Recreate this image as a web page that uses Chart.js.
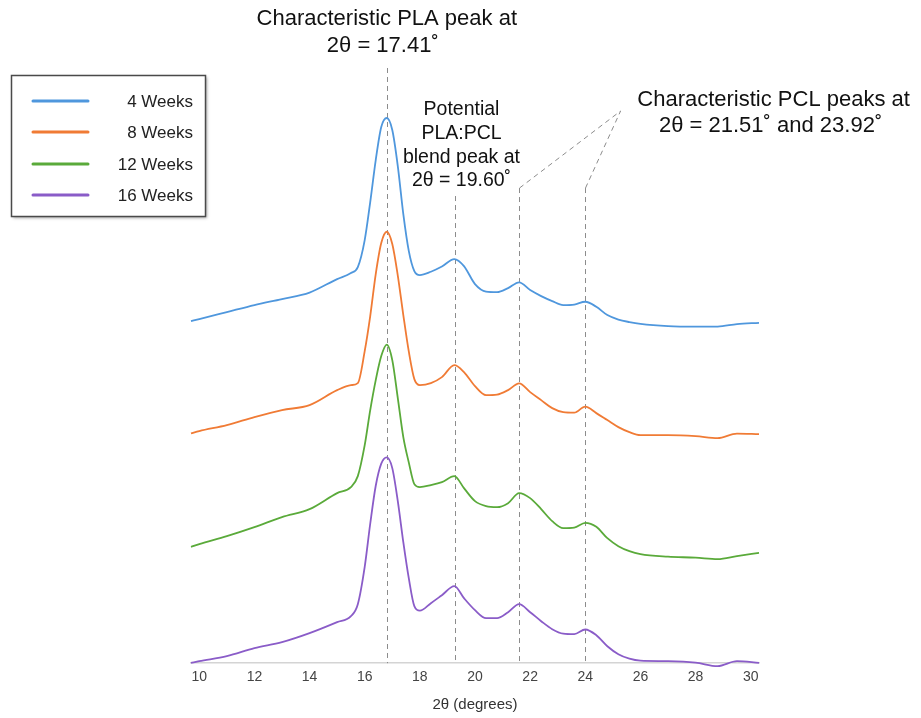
<!DOCTYPE html>
<html>
<head>
<meta charset="utf-8">
<script src="https://cdn.jsdelivr.net/npm/chart.js@4.4.1/dist/chart.umd.min.js"></script>
<style>
html,body{margin:0;padding:0;background:#fff;}
#wrap{width:921px;height:718px;position:relative;}
</style>
</head>
<body>
<div id="wrap"><canvas id="c" width="921" height="718"></canvas></div>
<script>
// ---- data (2θ in degrees, intensity in arbitrary stacked units) ----
const twoTheta = [9.7,10,11,12,13,14,15,15.5,15.75,16.0,16.2,16.4,16.6,16.8,17.0,17.2,17.4,17.6,17.8,18.0,18.4,18.8,19.25,19.6,20.0,20.4,20.8,21.2,21.6,22.0,22.4,22.8,23.2,23.6,24.0,24.4,24.8,25.2,25.6,26.0,27.0,28.0,28.8,29.5,30.3];
const weeks4  = [342,344,351,358,364,370.5,384,390,396,423,461,503,536,545,533,497,449,412,392,388,391.3,396.5,404,397,379,371.5,371,375,380.7,373,367,362,358,358.5,361.3,356.3,348,343.5,341,339.2,337,336.5,336.5,339,340.3];
const weeks8  = [229.7,232,238,246,253,258,273,278,280,312,347,389,420,431.3,419,387.5,348,311.4,284,278,280,286,298,291,277,268,268.5,273,279.7,271,263,255,251,250.5,256.5,250,243,236,231,228,228,227,225,229.5,229];
const weeks12 = [116.3,119,127,136,146,154,170,176,187,218,253,283,307,318.5,303,265,226,200.5,179,176,178,181,187,175,162,157,156,160,170,165,154,142,135,135.5,140.3,136.3,125,117,112,109,106.5,105.5,104,107,110.3];
const weeks16 = [0.3,2,7,15,21,30,41,47,59,96.3,139.4,177.4,199.5,205.7,195,162,121,84.7,57,52.5,60,68,77,65,53,45,45,51,59,51,42,34,29.5,29,33.7,28,17,9,4.5,2.5,2,0.5,-3,2,0.3];
const seriesLabels = ['4 Weeks','8 Weeks','12 Weeks','16 Weeks'];
const xTicks = [10,12,14,16,18,20,22,24,26,28,30];
// peak marker positions (2θ) and top of each dashed marker (intensity units)
const peakX   = [16.8, 19.27, 21.6, 23.98];
const peakTop = [595, 467, 475, 475];
const leaderApex = [25.28, 552];
const plaText   = ['Characteristic PLA peak at', '2θ = 17.41˚'];
const blendText = ['Potential', 'PLA:PCL', 'blend peak at', '2θ = 19.60˚'];
const pclText   = ['Characteristic PCL peaks at', '2θ = 21.51˚ and 23.92˚'];

const colors = ['#4f97dd','#f07b35','#5aaa3a','#8a5cc8'];
const FONT = "'Liberation Sans', Arial, Helvetica, sans-serif";
Chart.defaults.font.family = FONT;

const seriesData = [weeks4, weeks8, weeks12, weeks16];

const annot = {
  id: 'annot',
  beforeDatasetsDraw(chart) {
    const {ctx, scales: {x, y}} = chart;
    ctx.save();
    ctx.strokeStyle = '#8c8c8c';
    ctx.lineWidth = 1;
    ctx.setLineDash([5, 4]);
    const bottom = y.getPixelForValue(0);
    peakX.forEach((p, i) => {
      const px = Math.round(x.getPixelForValue(p)) + 0.5;
      ctx.beginPath();
      ctx.moveTo(px, y.getPixelForValue(peakTop[i]));
      ctx.lineTo(px, bottom);
      ctx.stroke();
    });
    const ax = x.getPixelForValue(leaderApex[0]);
    const ay = y.getPixelForValue(leaderApex[1]);
    [2, 3].forEach(i => {
      ctx.beginPath();
      ctx.moveTo(Math.round(x.getPixelForValue(peakX[i])) + 0.5, y.getPixelForValue(peakTop[i]));
      ctx.lineTo(ax, ay);
      ctx.stroke();
    });
    ctx.restore();
  },
  afterDraw(chart) {
    const {ctx, scales: {x, y}} = chart;
    ctx.save();
    ctx.fillStyle = '#111';
    ctx.textAlign = 'center';
    ctx.textBaseline = 'middle';
    // PLA annotation
    ctx.font = '22px ' + FONT;
    const plaX = x.getPixelForValue(peakX[0]);
    ctx.fillText(plaText[0], plaX, y.getPixelForValue(644));
    ctx.fillText(plaText[1], plaX - 4, y.getPixelForValue(617));
    // blend annotation
    ctx.font = '19.5px ' + FONT;
    const bx = x.getPixelForValue(19.51);
    [553, 529, 505, 482].forEach((v, i) => ctx.fillText(blendText[i], bx, y.getPixelForValue(v)));
    // PCL annotation
    ctx.font = '22px ' + FONT;
    const cx = x.getPixelForValue(30.83);
    ctx.fillText(pclText[0], cx, y.getPixelForValue(563));
    ctx.fillText(pclText[1], cx - 3, y.getPixelForValue(537));

    // legend box
    ctx.setLineDash([]);
    ctx.shadowColor = 'rgba(0,0,0,0.35)';
    ctx.shadowBlur = 3;
    ctx.shadowOffsetX = 1.5;
    ctx.shadowOffsetY = 1.5;
    ctx.fillStyle = '#fff';
    ctx.fillRect(11.5, 75.5, 194, 141);
    ctx.shadowColor = 'transparent';
    ctx.strokeStyle = '#4a4a4a';
    ctx.lineWidth = 1.5;
    ctx.strokeRect(11.5, 75.5, 194, 141);
    const rows = [101, 132, 164, 195];
    ctx.font = '17px ' + FONT;
    ctx.textAlign = 'right';
    chart.data.datasets.forEach((ds, i) => {
      ctx.strokeStyle = ds.borderColor;
      ctx.lineWidth = 3;
      ctx.lineCap = 'round';
      ctx.beginPath();
      ctx.moveTo(33, rows[i]);
      ctx.lineTo(88, rows[i]);
      ctx.stroke();
      ctx.fillStyle = '#222';
      ctx.fillText(ds.label, 193, rows[i] + 1);
    });
    ctx.restore();
  }
};

new Chart(document.getElementById('c'), {
  type: 'line',
  data: {
    datasets: seriesData.map((arr, i) => ({
      label: seriesLabels[i],
      data: twoTheta.map((t, k) => ({x: t, y: arr[k]})),
      borderColor: colors[i],
      borderWidth: 1.8,
      pointRadius: 0,
      cubicInterpolationMode: 'monotone',
      fill: false,
      clip: false
    }))
  },
  options: {
    responsive: false,
    animation: false,
    layout: {padding: {left: 191, right: 162, top: 100, bottom: 4}},
    plugins: {legend: {display: false}, tooltip: {enabled: false}},
    scales: {
      x: {
        type: 'linear',
        min: 9.7,
        max: 30.3,
        afterBuildTicks: axis => { axis.ticks = xTicks.map(v => ({value: v})); },
        grid: {display: false, drawTicks: false},
        border: {display: true, color: '#d4d4d4', width: 1.5},
        ticks: {font: {size: 14}, color: '#444', padding: 6, maxRotation: 0, autoSkip: false},
        title: {display: true, text: '2θ (degrees)', font: {size: 15}, color: '#333', padding: {top: 4, bottom: 0}}
      },
      y: {display: false, min: 0, max: 563}
    }
  },
  plugins: [annot]
});
</script>
</body>
</html>
